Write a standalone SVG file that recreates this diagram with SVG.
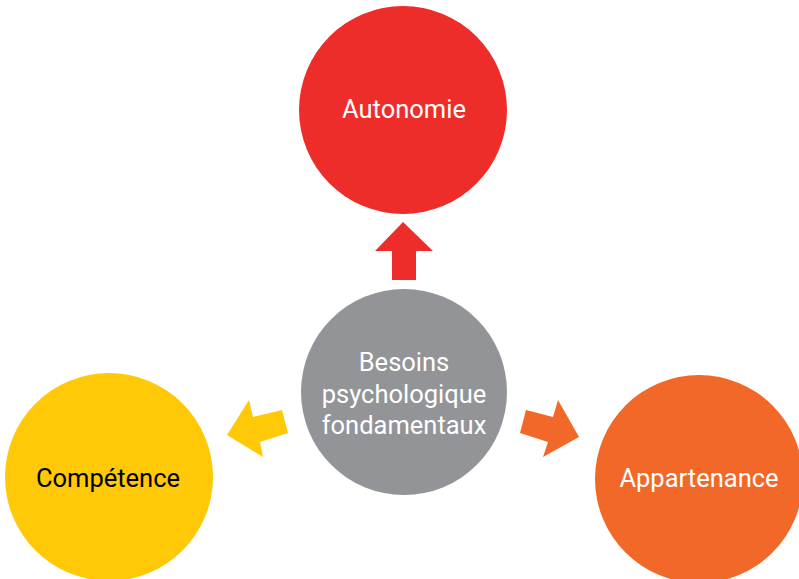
<svg xmlns="http://www.w3.org/2000/svg" width="799" height="579" viewBox="0 0 799 579">
<style>
text{font-family:Roboto,"Liberation Sans",sans-serif;font-size:25.5px;text-anchor:middle;fill:#fff}
</style>
<rect width="799" height="579" fill="#fff"/>
<g id="connectors">
<polygon points="403,222 433,251 416,251 416,280 392,280 392,251 375,251" fill="#EE2D2A"/>
<polygon points="227,435 249,400 253,417 282,410 288,433 260,442 263,457" fill="#FFC907"/>
<polygon points="579,437 558,400 553,417 526,410 520,433 548,442 543,457" fill="#F26829"/>
</g>
<g id="autonomie"><circle cx="403" cy="110" r="104" fill="#EE2D2A"/><text x="404" y="118">Autonomie</text></g>
<g id="besoins"><circle cx="404" cy="392" r="103" fill="#929497"/>
<text x="404" y="371">Besoins</text><text x="404" y="403">psychologique</text><text x="404" y="434">fondamentaux</text></g>
<g id="competence"><circle cx="109" cy="477" r="104" fill="#FFC907"/><text x="108" y="487" style="fill:#000">Compétence</text></g>
<g id="appartenance"><circle cx="699" cy="479" r="104" fill="#F26829"/><text x="699" y="487">Appartenance</text></g>
</svg>
